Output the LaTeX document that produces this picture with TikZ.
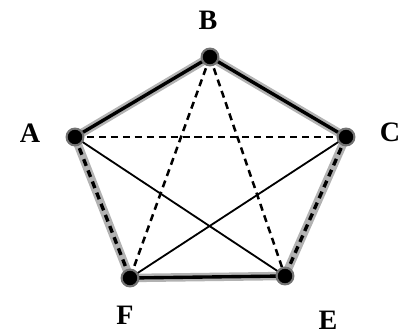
\documentclass[tikz,border=0pt]{standalone}
\usepackage{fontspec}
\setmainfont{Liberation Serif}
\usepackage{tikz}
\usetikzlibrary{positioning, calc}
\tikzset{
  vertex/.style={circle, fill=black, draw=black!55, line width=1.5pt, inner sep=0pt, minimum size=0.42cm},
  vlabel/.style={font=\fontsize{20}{22}\selectfont\bfseries, inner sep=0pt},
  halo/.style={line width=6pt, draw=black!30, line cap=round, line join=round},
  rim/.style={line width=2.4pt, draw=black},
  rimdash/.style={line width=2.4pt, draw=black, dash pattern=on 5pt off 3.5pt},
  chord/.style={line width=1.3pt, draw=black},
  chorddash/.style={line width=1.8pt, draw=black, dash pattern=on 5pt off 3.5pt}
}
\begin{document}
\begin{tikzpicture}
    \useasboundingbox (0,0) rectangle (10.325,8.4);

    % vertices
    \coordinate (A) at (1.875, 4.975);
    \coordinate (B) at (5.25, 6.975);
    \coordinate (C) at (8.65, 4.975);
    \coordinate (F) at (3.25, 1.45);
    \coordinate (E) at (7.125, 1.5);

    % gray shade along the outer pentagon
    \draw[halo] (A) -- (B) -- (C) -- (E) -- (F) -- cycle;

    % outer edges
    \draw[rim] (A) -- (B);
    \draw[rim] (B) -- (C);
    \draw[rim] (F) -- (E);
    \draw[rimdash] (A) -- (F);
    \draw[rimdash] (C) -- (E);

    % inner edges
    \draw[chorddash] (A) -- (C);
    \draw[chorddash] (B) -- (F);
    \draw[chorddash] (B) -- (E);
    \draw[chord] (A) -- (E);
    \draw[chord] (C) -- (F);

    % dots
    \foreach \v in {A,B,C,F,E}
        \node[vertex] (dot\v) at (\v) {};

    % letters
    \node[vlabel] (labB) at (5.2, 7.9) {B};
    \node[vlabel] (labA) at (0.75, 5.075) {A};
    \node[vlabel] (labC) at (9.75, 5.1) {C};
    \node[vlabel] (labF) at (3.125, 0.525) {F};
    \node[vlabel] (labE) at (8.2, 0.4) {E};

\end{tikzpicture}
\end{document}
